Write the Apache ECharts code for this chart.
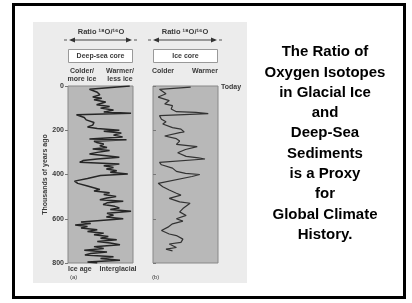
<!DOCTYPE html>
<html>
<head>
<meta charset="utf-8">
<script src="https://cdn.jsdelivr.net/npm/echarts@6/dist/echarts.min.js"></script>
<style>
  html, body { margin: 0; padding: 0; background: #fff; }
  #chart { width: 412px; height: 303px; }
</style>
</head>
<body>
<div id="chart"></div>
<script>
// age in thousands of years, x = position between colder (0) and warmer (100)
var deepAge = [0, 15, 28, 40, 50, 55, 62, 72, 85, 93, 100, 108, 118, 123, 130, 142, 153, 165, 177, 185, 192, 200, 205, 212, 222, 230, 240, 243, 250, 255, 262, 270, 278, 285, 292, 300, 307, 315, 322, 330, 337, 345, 353, 360, 368, 375, 383, 390, 398, 405, 418, 430, 440, 445, 452, 460, 468, 475, 483, 490, 499, 506, 514, 521, 528, 536, 544, 551, 558, 566, 575, 584, 592, 600, 608, 615, 622, 628, 635, 642, 650, 658, 665, 672, 680, 688, 695, 703, 710, 718, 726, 734, 742, 750, 757, 764, 772, 780, 788, 795, 800];
var deepX = [95, 33, 45, 49, 38, 52, 40, 58, 44, 64, 50, 70, 55, 97, 13, 25, 28, 40, 38, 30, 45, 79, 55, 82, 70, 84, 33, 90, 40, 44, 55, 49, 60, 38, 64, 45, 33, 59, 79, 45, 23, 18, 79, 55, 70, 59, 75, 65, 92, 50, 30, 10, 15, 18, 30, 33, 49, 40, 64, 55, 74, 60, 49, 85, 60, 54, 72, 79, 65, 97, 60, 70, 59, 85, 50, 20, 35, 11, 30, 20, 45, 30, 55, 40, 62, 50, 75, 45, 65, 80, 40, 55, 25, 60, 35, 26, 70, 50, 80, 30, 45];
var iceAge = [5, 15, 35, 50, 66, 81, 89, 104, 116, 119, 125, 134, 150, 162, 172, 188, 195, 208, 211, 226, 238, 249, 264, 274, 287, 302, 318, 325, 330, 345, 356, 371, 386, 395, 400, 409, 440, 455, 470, 485, 493, 508, 524, 530, 554, 569, 585, 600, 611, 623, 638, 653, 669, 676, 692, 707, 714, 730, 737, 745];
var iceX = [58, 10, 20, 8, 25, 18, 30, 28, 36, 66, 85, 10, 13, 20, 15, 30, 43, 48, 41, 18, 36, 41, 36, 68, 50, 38, 51, 70, 80, 10, 13, 30, 36, 50, 72, 60, 8, 15, 25, 36, 43, 25, 41, 57, 46, 41, 51, 36, 46, 30, 23, 13, 25, 36, 46, 43, 25, 36, 20, 30];
var ageTicks = [0, 200, 400, 600, 800];

function pairs(xs, ys) {
  return xs.map(function (x, i) { return [x, ys[i]]; });
}

var chart = echarts.init(document.getElementById('chart'));
var small = { fontFamily: 'Liberation Sans', fontWeight: 'bold', fontSize: 7, fill: '#3a3a3a' };
function txt(x, y, s, align, extra) {
  var st = Object.assign({}, small, { text: s, align: align || 'center', verticalAlign: 'middle' }, extra || {});
  return { type: 'text', x: x, y: y, style: st, z: 5 };
}
function arrow(x1, x2, y) {
  return [
    { type: 'line', shape: { x1: x1 + 7, y1: y, x2: x2 - 7, y2: y }, style: { stroke: '#444', lineWidth: 1 }, z: 5 },
    { type: 'line', shape: { x1: x1, y1: y, x2: x1 + 3, y2: y }, style: { stroke: '#555', lineWidth: 1 }, z: 5 },
    { type: 'line', shape: { x1: x2 - 3, y1: y, x2: x2, y2: y }, style: { stroke: '#555', lineWidth: 1 }, z: 5 },
    { type: 'polygon', shape: { points: [[x1 + 5, y], [x1 + 11, y - 2.5], [x1 + 11, y + 2.5]] }, style: { fill: '#333' }, z: 5 },
    { type: 'polygon', shape: { points: [[x2 - 5, y], [x2 - 11, y - 2.5], [x2 - 11, y + 2.5]] }, style: { fill: '#333' }, z: 5 }
  ];
}

var graphics = [
  { type: 'rect', shape: { x: 13.5, y: 4.5, width: 391, height: 293 }, style: { fill: '#fff', stroke: '#000', lineWidth: 3 }, z: -20 },
  { type: 'rect', shape: { x: 33, y: 22, width: 214, height: 261 }, style: { fill: '#ececec' }, z: -10 },
  txt(101, 32, 'Ratio ¹⁸O/¹⁶O', 'center', { fontSize: 7.5 }),
  txt(185, 32, 'Ratio ¹⁸O/¹⁶O', 'center', { fontSize: 7.5 }),
  { type: 'rect', shape: { x: 68.5, y: 49.5, width: 64, height: 13 }, style: { fill: '#fff', stroke: '#999', lineWidth: 1 }, z: 5 },
  { type: 'rect', shape: { x: 153.5, y: 49.5, width: 64, height: 13 }, style: { fill: '#fff', stroke: '#999', lineWidth: 1 }, z: 5 },
  txt(100.5, 56, 'Deep-sea core'),
  txt(185.5, 56, 'Ice core'),
  txt(82, 71, 'Colder/'), txt(82, 79, 'more ice'),
  txt(120, 71, 'Warmer/'), txt(120, 79, 'less ice'),
  txt(163, 71, 'Colder'), txt(205, 71, 'Warmer'),
  txt(221, 87, 'Today', 'left'),
  txt(68, 269, 'Ice age', 'left'),
  txt(118, 269, 'Interglacial'),
  txt(70, 277, '(a)', 'left', { fontSize: 6, fontWeight: 'normal' }),
  txt(152, 277, '(b)', 'left', { fontSize: 6, fontWeight: 'normal' }),
  {
    type: 'text', x: 325, y: 42, z: 5,
    style: {
      text: 'The Ratio of\nOxygen Isotopes\nin Glacial Ice\nand\nDeep-Sea\nSediments\nis a Proxy\nfor\nGlobal Climate\nHistory.',
      align: 'center', verticalAlign: 'top', lineHeight: 20.3,
      fontFamily: 'Liberation Sans', fontWeight: 'bold', fontSize: 15, fill: '#000'
    }
  }
].concat(arrow(64, 137, 40), arrow(148, 222, 40));

var yBase = { type: 'value', inverse: true, min: 0, max: 800, interval: 200, splitLine: { show: false } };

chart.setOption({
  animation: false,
  grid: [
    { left: 68, top: 86, width: 65, height: 177, show: true, backgroundColor: '#b8b8b8', borderColor: '#888', borderWidth: 1 },
    { left: 153, top: 86, width: 65, height: 177, show: true, backgroundColor: '#b8b8b8', borderColor: '#888', borderWidth: 1 }
  ],
  xAxis: [
    { type: 'value', gridIndex: 0, min: 0, max: 100, show: false },
    { type: 'value', gridIndex: 1, min: 0, max: 100, show: false }
  ],
  yAxis: [
    Object.assign({}, yBase, {
      gridIndex: 0,
      name: 'Thousands of years ago', nameLocation: 'middle', nameGap: 18, nameRotate: 90,
      nameTextStyle: { fontFamily: 'Liberation Sans', fontWeight: 'bold', fontSize: 7, color: '#3a3a3a' },
      axisLine: { show: false },
      axisTick: { show: true, length: 3, lineStyle: { color: '#777' } },
      axisLabel: {
        margin: 4, fontFamily: 'Liberation Sans', fontWeight: 'bold', fontSize: 7, color: '#3a3a3a',
        formatter: function (v) { return ageTicks.indexOf(v) >= 0 ? String(v) : ''; }
      }
    }),
    Object.assign({}, yBase, {
      gridIndex: 1,
      axisLine: { show: false },
      axisTick: { show: true, inside: true, length: 3, lineStyle: { color: '#777' } },
      axisLabel: { show: false }
    })
  ],
  series: [
    { type: 'line', xAxisIndex: 0, yAxisIndex: 0, data: pairs(deepX, deepAge), showSymbol: false,
      lineStyle: { color: '#262626', width: 1.5 } },
    { type: 'line', xAxisIndex: 1, yAxisIndex: 1, data: pairs(iceX, iceAge), showSymbol: false,
      lineStyle: { color: '#333', width: 1.2 } }
  ],
  graphic: { elements: graphics }
});
</script>
</body>
</html>
